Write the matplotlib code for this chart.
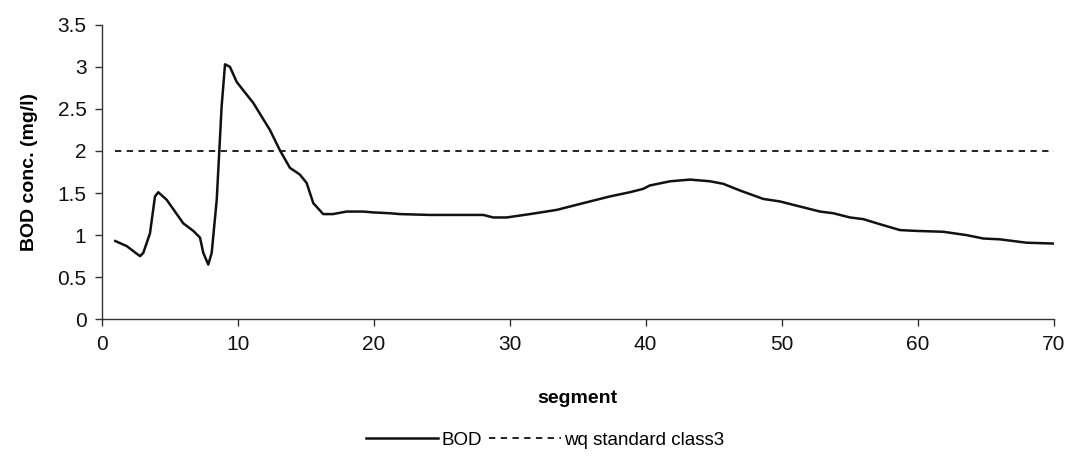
import matplotlib
matplotlib.use("Agg")

import matplotlib.pyplot as plt

plt.rcParams["font.family"] = ["Liberation Sans", "DejaVu Sans"]

# BOD concentration along the river segments (mg/l)
segment = [1.0, 1.84, 2.82, 3.06, 3.55, 3.92, 4.16, 4.78, 6.0, 6.74, 7.23,
           7.47, 7.84, 8.09, 8.46, 8.82, 9.07, 9.43, 9.93, 11.15, 12.37, 13.1,
           13.84, 14.57, 15.07, 15.56, 16.29, 17.0, 18.0, 19.24, 19.97, 21.2,
           21.93, 24.1, 28.06, 28.79, 29.78, 31.49, 33.46, 35.4, 37.37, 38.84,
           39.82, 40.3, 41.8, 43.26, 44.73, 45.7, 46.94, 48.65, 49.88, 51.1,
           52.82, 53.8, 55.02, 56.0, 57.22, 58.7, 59.93, 61.88, 63.6, 64.82,
           66.05, 68.0, 70.0]
bod = [0.93, 0.87, 0.75, 0.79, 1.02, 1.46, 1.51, 1.42, 1.14, 1.05, 0.97,
       0.79, 0.65, 0.79, 1.42, 2.53, 3.03, 3.0, 2.82, 2.57, 2.25, 2.01,
       1.80, 1.72, 1.62, 1.38, 1.25, 1.25, 1.28, 1.28, 1.27, 1.26,
       1.25, 1.24, 1.24, 1.21, 1.21, 1.25, 1.30, 1.38, 1.46, 1.51,
       1.55, 1.59, 1.64, 1.66, 1.64, 1.61, 1.53, 1.43, 1.40, 1.35,
       1.28, 1.26, 1.21, 1.19, 1.13, 1.06, 1.05, 1.04, 1.00, 0.96,
       0.95, 0.91, 0.90]

# water quality standard, class 3
std_x = [1, 70]
std_y = [2.0, 2.0]

fig = plt.figure(figsize=(10.68, 4.67), dpi=100)
ax = fig.add_axes([0.0952, 0.3163, 0.8914, 0.6307])

ax.plot(segment, bod, color="#111111", linewidth=1.8, label="BOD",
        solid_joinstyle="round")
ax.plot(std_x, std_y, color="#111111", linewidth=1.3, linestyle=(0, (3.5, 3.0)),
        label="wq standard class3")

ax.set_xlim(0, 70)
ax.set_ylim(0, 3.5)
ax.set_xticks(range(0, 71, 10))
ax.set_yticks([0, 0.5, 1, 1.5, 2, 2.5, 3, 3.5])
ax.set_yticklabels(["0", "0.5", "1", "1.5", "2", "2.5", "3", "3.5"])

for side in ("top", "right"):
    ax.spines[side].set_visible(False)
for side in ("left", "bottom"):
    ax.spines[side].set_color("#333333")
    ax.spines[side].set_linewidth(1.0)
ax.tick_params(direction="out", length=5, width=1.0, colors="#333333",
               labelsize=15, labelcolor="#111111", pad=6)

ax.set_xlabel("segment", fontsize=14, fontweight="bold", labelpad=26)
ax.set_ylabel("BOD conc. (mg/l)", fontsize=14, fontweight="bold", labelpad=14)

ax.legend(loc="center", bbox_to_anchor=(0.466, -0.41), ncol=2,
          frameon=False, fontsize=13.5, handlelength=3.8, handletextpad=0.2,
          columnspacing=0.4)

fig.savefig("out.png", dpi=100)
